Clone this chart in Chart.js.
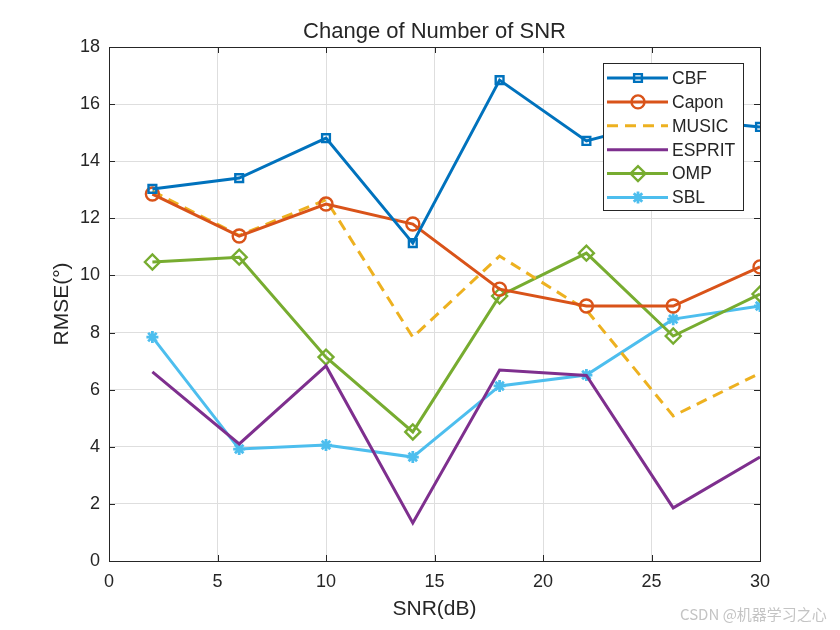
<!DOCTYPE html>
<html>
<head>
<meta charset="utf-8">
<script src="https://cdn.jsdelivr.net/npm/chart.js@4.4.0/dist/chart.umd.min.js"></script>
<style>
  html, body { margin:0; padding:0; background:#fff; }
  #wrap { position:relative; width:840px; height:630px; }
  #mark { position:absolute; left:680px; top:603px; font:15px "Noto Sans CJK SC", "Liberation Sans", sans-serif; color:#c4c4c4; white-space:nowrap; }
</style>
</head>
<body>
<div id="wrap">
  <canvas id="c" width="840" height="630"></canvas>
  <div id="mark">CSDN @机器学习之心</div>
</div>
<script>
// ===== Datos =====
const snr = [2, 6, 10, 14, 18, 22, 26, 30];
const cbf    = [13.03, 13.41, 14.81, 11.13, 16.84, 14.71, 15.5, 15.2];
const capon  = [12.85, 11.38, 12.5, 11.8, 9.52, 8.93, 8.93, 10.3];
const music  = [12.95, 11.4, 12.65, 7.84, 10.68, 8.79, 5.08, 6.58];
const esprit = [6.62, 4.1, 6.83, 1.33, 6.69, 6.5, 1.86, 3.64];
const omp    = [10.47, 10.64, 7.14, 4.52, 9.28, 10.78, 7.88, 9.35];
const sbl    = [7.84, 3.92, 4.06, 3.64, 6.13, 6.51, 8.47, 8.93];

const xTicks = [0, 5, 10, 15, 20, 25, 30];
const yTicks = [0, 2, 4, 6, 8, 10, 12, 14, 16, 18];

const TXT = '#262626';
const FONT = '"Liberation Sans", Arial, sans-serif';

const pts = arr => arr.map((v, i) => ({x: snr[i], y: v}));

function series(label, data, color, marker, opts = {}){
  return Object.assign({
    label, data: pts(data),
    borderColor: color, backgroundColor: 'rgba(0,0,0,0)',
    borderWidth: 3, pointStyle: marker, pointRadius: marker ? 6 : 0,
    pointBorderWidth: 2.4, pointBorderColor: color, pointBackgroundColor: 'rgba(0,0,0,0)',
    tension: 0, fill: false
  }, opts);
}

const datasets = [
  series('CBF', cbf, '#0072BD', 'rect', {pointRadius: 5.5}),
  series('Capon', capon, '#D95319', 'circle', {pointRadius: 6.5}),
  series('MUSIC', music, '#EDB120', false, {borderDash: [11, 7]}),
  series('ESPRIT', esprit, '#7E2F8E', false),
  series('OMP', omp, '#77AC30', 'rectRot', {pointRadius: 7.5}),
  series('SBL', sbl, '#4DBEEE', 'star', {pointRadius: 6, pointBorderWidth: 2.8})
];

// ===== Decoración: caja, ticks internos, títulos, leyenda =====
const decor = {
  id: 'decor',
  afterDatasetsDraw(chart){
    const {ctx, chartArea: a, scales: {x, y}} = chart;
    ctx.save();
    // caja
    ctx.strokeStyle = TXT; ctx.lineWidth = 1;
    ctx.strokeRect(a.left + 0.5, a.top + 0.5, a.right - a.left, a.bottom - a.top);
    // ticks hacia dentro
    ctx.beginPath();
    xTicks.forEach(t => {
      const px = Math.round(x.getPixelForValue(t)) + 0.5;
      ctx.moveTo(px, a.bottom); ctx.lineTo(px, a.bottom - 6);
      ctx.moveTo(px, a.top); ctx.lineTo(px, a.top + 6);
    });
    yTicks.forEach(t => {
      const py = Math.round(y.getPixelForValue(t)) + 0.5;
      ctx.moveTo(a.left, py); ctx.lineTo(a.left + 6, py);
      ctx.moveTo(a.right, py); ctx.lineTo(a.right - 6, py);
    });
    ctx.stroke();

    // títulos
    ctx.fillStyle = TXT;
    ctx.textAlign = 'center'; ctx.textBaseline = 'middle';
    ctx.font = `22px ${FONT}`;
    ctx.fillText('Change of Number of SNR', (a.left + a.right) / 2, 32);
    ctx.font = `21px ${FONT}`;
    ctx.fillText('SNR(dB)', (a.left + a.right) / 2, 609);
    ctx.save();
    ctx.translate(62, (a.top + a.bottom) / 2);
    ctx.rotate(-Math.PI / 2);
    ctx.fillText('RMSE(°)', 0, 0);
    ctx.restore();

    // leyenda
    const lx = 603, ly = 63, lw = 140, lh = 147, row = 23.9;
    ctx.fillStyle = '#fff';
    ctx.fillRect(lx, ly, lw, lh);
    ctx.strokeStyle = TXT; ctx.lineWidth = 1;
    ctx.strokeRect(lx + 0.5, ly + 0.5, lw, lh);
    ctx.font = `17.5px ${FONT}`;
    ctx.textAlign = 'left';
    chart.data.datasets.forEach((d, i) => {
      const cy = ly + 15 + i * row;
      ctx.save();
      ctx.strokeStyle = d.borderColor; ctx.lineWidth = d.borderWidth;
      ctx.setLineDash(d.borderDash || []);
      ctx.beginPath(); ctx.moveTo(lx + 4, cy); ctx.lineTo(lx + 65, cy); ctx.stroke();
      ctx.restore();
      if(d.pointStyle){
        ctx.save();
        ctx.strokeStyle = d.borderColor; ctx.fillStyle = 'rgba(0,0,0,0)';
        ctx.lineWidth = d.pointBorderWidth;
        Chart.helpers.drawPoint(ctx, {pointStyle: d.pointStyle, radius: d.pointRadius, borderWidth: d.pointBorderWidth, rotation: 0}, lx + 35, cy);
        ctx.restore();
      }
      ctx.fillStyle = TXT;
      ctx.fillText(d.label, lx + 69, cy + 1);
    });
    ctx.restore();
  }
};

new Chart(document.getElementById('c').getContext('2d'), {
  type: 'line',
  data: {datasets},
  options: {
    responsive: false,
    animation: false,
    layout: {padding: {top: 47, right: 80, left: 0, bottom: 0}},
    plugins: {legend: {display: false}, tooltip: {enabled: false}},
    scales: {
      x: {
        type: 'linear', min: 0, max: 30,
        afterFit: s => { s.height = 69; },
        afterBuildTicks: s => { s.ticks = xTicks.map(v => ({value: v})); },
        ticks: {color: TXT, font: {size: 18, family: FONT}, padding: 10, maxRotation: 0},
        grid: {color: '#dedede', lineWidth: 1, drawTicks: false},
        border: {display: false}
      },
      y: {
        min: 0, max: 18,
        afterFit: s => { s.width = 109; },
        afterBuildTicks: s => { s.ticks = yTicks.map(v => ({value: v})); },
        ticks: {color: TXT, font: {size: 18, family: FONT}, padding: 9},
        grid: {color: '#dedede', lineWidth: 1, drawTicks: false},
        border: {display: false}
      }
    }
  },
  plugins: [decor]
});
</script>
</body>
</html>
